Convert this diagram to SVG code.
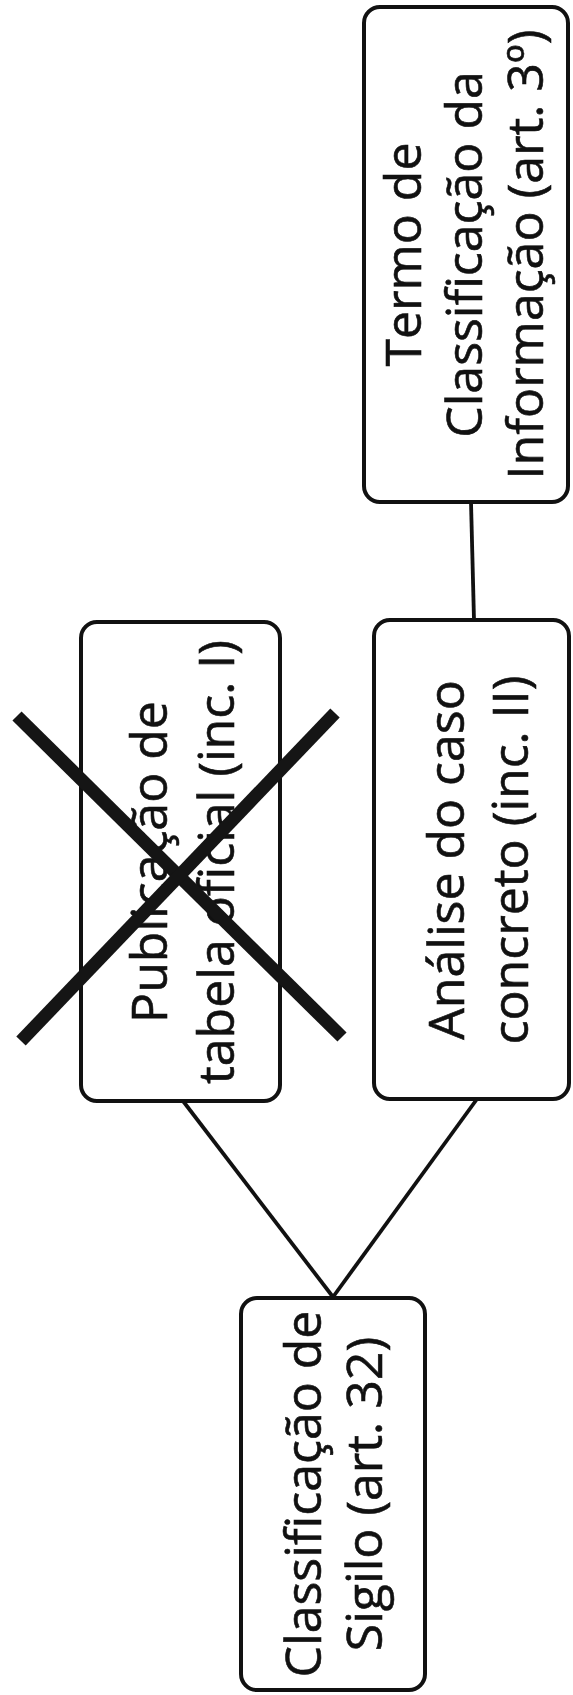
<svg xmlns="http://www.w3.org/2000/svg" width="573" height="1695" viewBox="0 0 573 1695">
<style>
.box{fill:#fff;stroke:#111;stroke-width:4}
.lbl{font-family:"Open Sans","Noto Sans",sans-serif;font-size:50px;fill:#111;stroke:#111;stroke-width:0.6;text-anchor:middle}
.conn{stroke:#111;stroke-width:3.8;fill:none}
.cross{stroke:#151515;stroke-width:13;stroke-linecap:butt}
</style>
<rect width="573" height="1695" fill="#fff"/>
<g id="connectors">
<line class="conn" x1="471" y1="502" x2="474" y2="620"/>
<line class="conn" x1="333" y1="1297" x2="183" y2="1101"/>
<line class="conn" x1="333" y1="1297" x2="477" y2="1099"/>
</g>
<g id="termo">
<rect class="box" x="364" y="7" width="204" height="495" rx="16"/>
<text class="lbl" transform="translate(0,254.5) rotate(-90)"><tspan x="0" y="421">Termo de</tspan><tspan x="0" y="482">Classificação da</tspan><tspan x="0" y="543">Informação (art. 3º)</tspan></text>
</g>
<g id="publicacao">
<rect class="box" x="81" y="622" width="199" height="479" rx="16"/>
<text class="lbl" transform="translate(0,862) rotate(-90)"><tspan x="0" y="167">Publicação de</tspan><tspan x="0" y="234">tabela oficial (inc. I)</tspan></text>
</g>
<g id="analise">
<rect class="box" x="374" y="620" width="195" height="479" rx="16"/>
<text class="lbl" transform="translate(0,860) rotate(-90)"><tspan x="0" y="464">Análise do caso</tspan><tspan x="0" y="528">concreto (inc. II)</tspan></text>
</g>
<g id="classificacao">
<rect class="box" x="241" y="1298" width="184" height="392" rx="16"/>
<text class="lbl" transform="translate(0,1494) rotate(-90)"><tspan x="0" y="321">Classificação de</tspan><tspan x="0" y="382">Sigilo (art. 32)</tspan></text>
</g>
<g id="strike">
<line class="cross" x1="17" y1="716" x2="342" y2="1037"/>
<line class="cross" x1="335" y1="713" x2="21" y2="1041"/>
</g>
</svg>
